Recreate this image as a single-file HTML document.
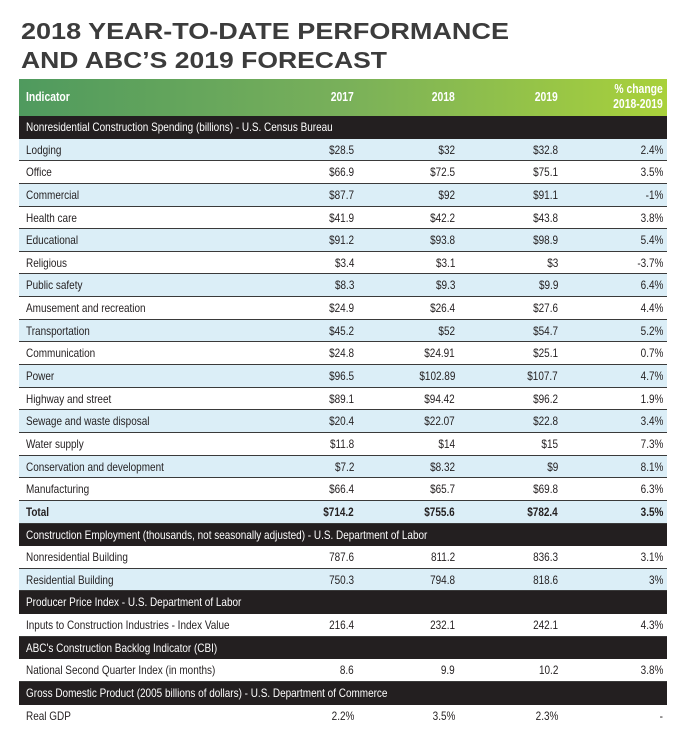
<!DOCTYPE html>
<html><head><meta charset="utf-8"><style>
*{margin:0;padding:0;box-sizing:border-box}
body{width:685px;height:740px;background:#fff;position:relative;overflow:hidden;font-family:"Liberation Sans",sans-serif;}
.t{position:absolute;left:0;top:0}
#hdr{position:absolute;left:19px;top:79px;width:648px;height:37px;background:linear-gradient(90deg,#4f9a5e 0%,#79b05a 50%,#a9d13b 100%);color:#fff;font-weight:bold;font-size:12.5px}
.r{position:relative;width:648px;height:22.65px;font-size:12px;color:#231f20;border-bottom:1px solid #3a3a3a}
.r span,#hdr span{position:absolute;white-space:nowrap;transform:scaleX(0.83)}
.r span{top:4px}
.l{left:7px;transform-origin:left center}
.c1,.c2,.c3,.c4,#hdr span.rt{transform-origin:right center}
#hdr span.lt{transform-origin:left center}
.c1{right:313px}.c2{right:212px}.c3{right:109px}.c4{right:4px}
.b{background:#dbeef7}
.k{background:#231f20;color:#fff;border-bottom:none}
.bold{font-weight:bold}
#rows{position:absolute;left:19px;top:116px}
</style></head><body>
<svg class="t" width="685" height="80">
<text x="21" y="39" textLength="488" lengthAdjust="spacingAndGlyphs" font-family="Liberation Sans" font-weight="bold" font-size="23.5" fill="#3c3c3c">2018 YEAR-TO-DATE PERFORMANCE</text>
<text x="21" y="68" textLength="366" lengthAdjust="spacingAndGlyphs" font-family="Liberation Sans" font-weight="bold" font-size="23.5" fill="#3c3c3c">AND ABC’S 2019 FORECAST</text>
</svg>
<div id="hdr">
<span class="lt" style="left:7px;top:11px">Indicator</span>
<span class="rt" style="right:313px;top:11px">2017</span>
<span class="rt" style="right:212px;top:11px">2018</span>
<span class="rt" style="right:109px;top:11px">2019</span>
<span class="rt" style="right:4px;top:3px;text-align:right;line-height:15px">% change<br>2018-2019</span>
</div>
<div id="rows">
<div class="r k"><span class="l">Nonresidential Construction Spending (billions) - U.S. Census Bureau</span></div>
<div class="r b"><span class="l">Lodging</span><span class="c1">$28.5</span><span class="c2">$32</span><span class="c3">$32.8</span><span class="c4">2.4%</span></div>
<div class="r"><span class="l">Office</span><span class="c1">$66.9</span><span class="c2">$72.5</span><span class="c3">$75.1</span><span class="c4">3.5%</span></div>
<div class="r b"><span class="l">Commercial</span><span class="c1">$87.7</span><span class="c2">$92</span><span class="c3">$91.1</span><span class="c4">-1%</span></div>
<div class="r"><span class="l">Health care</span><span class="c1">$41.9</span><span class="c2">$42.2</span><span class="c3">$43.8</span><span class="c4">3.8%</span></div>
<div class="r b"><span class="l">Educational</span><span class="c1">$91.2</span><span class="c2">$93.8</span><span class="c3">$98.9</span><span class="c4">5.4%</span></div>
<div class="r"><span class="l">Religious</span><span class="c1">$3.4</span><span class="c2">$3.1</span><span class="c3">$3</span><span class="c4">-3.7%</span></div>
<div class="r b"><span class="l">Public safety</span><span class="c1">$8.3</span><span class="c2">$9.3</span><span class="c3">$9.9</span><span class="c4">6.4%</span></div>
<div class="r"><span class="l">Amusement and recreation</span><span class="c1">$24.9</span><span class="c2">$26.4</span><span class="c3">$27.6</span><span class="c4">4.4%</span></div>
<div class="r b"><span class="l">Transportation</span><span class="c1">$45.2</span><span class="c2">$52</span><span class="c3">$54.7</span><span class="c4">5.2%</span></div>
<div class="r"><span class="l">Communication</span><span class="c1">$24.8</span><span class="c2">$24.91</span><span class="c3">$25.1</span><span class="c4">0.7%</span></div>
<div class="r b"><span class="l">Power</span><span class="c1">$96.5</span><span class="c2">$102.89</span><span class="c3">$107.7</span><span class="c4">4.7%</span></div>
<div class="r"><span class="l">Highway and street</span><span class="c1">$89.1</span><span class="c2">$94.42</span><span class="c3">$96.2</span><span class="c4">1.9%</span></div>
<div class="r b"><span class="l">Sewage and waste disposal</span><span class="c1">$20.4</span><span class="c2">$22.07</span><span class="c3">$22.8</span><span class="c4">3.4%</span></div>
<div class="r"><span class="l">Water supply</span><span class="c1">$11.8</span><span class="c2">$14</span><span class="c3">$15</span><span class="c4">7.3%</span></div>
<div class="r b"><span class="l">Conservation and development</span><span class="c1">$7.2</span><span class="c2">$8.32</span><span class="c3">$9</span><span class="c4">8.1%</span></div>
<div class="r"><span class="l">Manufacturing</span><span class="c1">$66.4</span><span class="c2">$65.7</span><span class="c3">$69.8</span><span class="c4">6.3%</span></div>
<div class="r b bold"><span class="l">Total</span><span class="c1">$714.2</span><span class="c2">$755.6</span><span class="c3">$782.4</span><span class="c4">3.5%</span></div>
<div class="r k"><span class="l">Construction Employment (thousands, not seasonally adjusted) - U.S. Department of Labor</span></div>
<div class="r"><span class="l">Nonresidential Building</span><span class="c1">787.6</span><span class="c2">811.2</span><span class="c3">836.3</span><span class="c4">3.1%</span></div>
<div class="r b"><span class="l">Residential Building</span><span class="c1">750.3</span><span class="c2">794.8</span><span class="c3">818.6</span><span class="c4">3%</span></div>
<div class="r k"><span class="l">Producer Price Index - U.S. Department of Labor</span></div>
<div class="r"><span class="l">Inputs to Construction Industries - Index Value</span><span class="c1">216.4</span><span class="c2">232.1</span><span class="c3">242.1</span><span class="c4">4.3%</span></div>
<div class="r k"><span class="l">ABC's Construction Backlog Indicator (CBI)</span></div>
<div class="r"><span class="l">National Second Quarter Index (in months)</span><span class="c1">8.6</span><span class="c2">9.9</span><span class="c3">10.2</span><span class="c4">3.8%</span></div>
<div class="r k"><span class="l">Gross Domestic Product (2005 billions of dollars) - U.S. Department of Commerce</span></div>
<div class="r" style="border-bottom:none"><span class="l">Real GDP</span><span class="c1">2.2%</span><span class="c2">3.5%</span><span class="c3">2.3%</span><span class="c4">-</span></div>
</div>
</body></html>
